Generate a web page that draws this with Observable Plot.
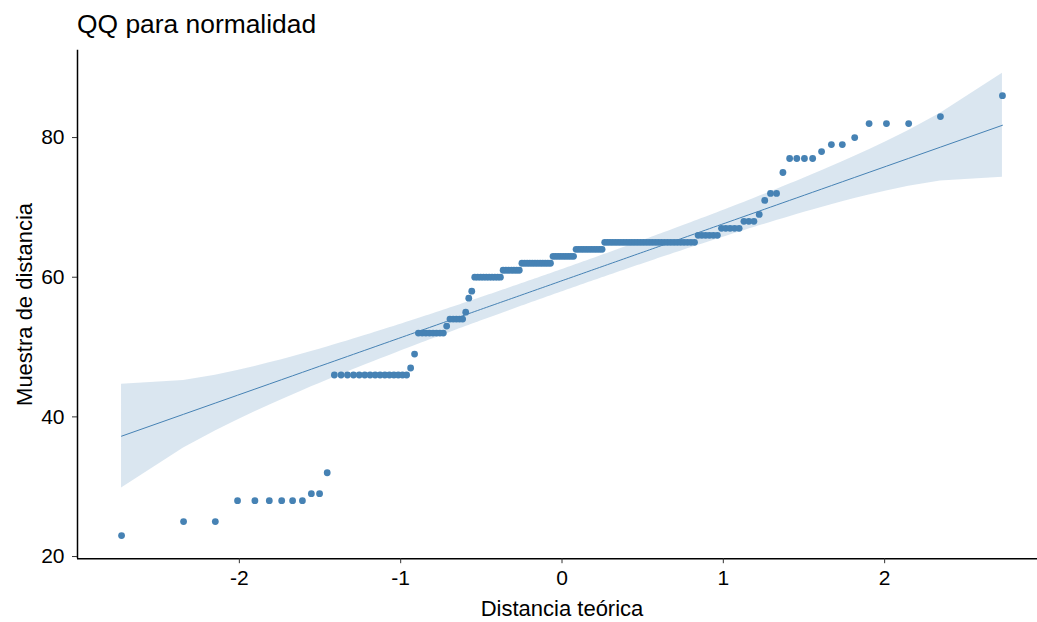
<!DOCTYPE html>
<html>
<head>
<meta charset="utf-8">
<script src="https://cdn.jsdelivr.net/npm/d3@7"></script>
<script src="https://cdn.jsdelivr.net/npm/@observablehq/plot@0.6"></script>
<style>
  html, body { margin: 0; padding: 0; background: #fff; overflow: hidden; }
  body { font-family: "Liberation Sans", Arial, sans-serif; }
  #title {
    height: 42px; box-sizing: border-box; padding: 11px 0 0 77px;
    font-size: 26.4px; line-height: 26px; color: #000; white-space: nowrap;
  }
</style>
</head>
<body>
<div id="title">QQ para normalidad</div>
<div id="chart"></div>
<script>
// Observed distances (distinct values and how many times each occurs)
const distanceValues = [23, 25, 28, 29, 32, 46, 47, 49, 52, 53, 54, 55, 57, 58,
  60, 61, 62, 63, 64, 65, 66, 67, 68, 69, 71, 72, 75, 77, 78, 79, 80, 82, 83, 86];
const distanceCounts = [1, 2, 6, 2, 1, 15, 1, 1, 8, 1, 5, 1, 1, 1,
  10, 7, 12, 9, 11, 31, 6, 5, 3, 1, 1, 2, 1, 4, 1, 2, 1, 3, 1, 1];

// Axis ticks
const xTicks = [-2, -1, 0, 1, 2];
const yTicks = [20, 40, 60, 80];

// Inverse of the standard normal CDF (Acklam's rational approximation)
function qnorm(p) {
  const a = [-3.969683028665376e+01, 2.209460984245205e+02, -2.759285104469687e+02,
             1.383577518672690e+02, -3.066479806614716e+01, 2.506628277459239e+00];
  const b = [-5.447609879822406e+01, 1.615858368580409e+02, -1.556989798598866e+02,
             6.680131188771972e+01, -1.328068155288572e+01];
  const c = [-7.784894002430293e-03, -3.223964580411365e-01, -2.400758277161838e+00,
             -2.549732539343734e+00, 4.374664141464968e+00, 2.938163982698783e+00];
  const d = [7.784695709041462e-03, 3.224671290700398e-01, 2.445134137142996e+00,
             3.754408661907416e+00];
  const pl = 0.02425, ph = 1 - pl;
  let q, r;
  if (p < pl) {
    q = Math.sqrt(-2 * Math.log(p));
    return (((((c[0]*q+c[1])*q+c[2])*q+c[3])*q+c[4])*q+c[5]) / ((((d[0]*q+d[1])*q+d[2])*q+d[3])*q+1);
  }
  if (p <= ph) {
    q = p - 0.5; r = q * q;
    return (((((a[0]*r+a[1])*r+a[2])*r+a[3])*r+a[4])*r+a[5])*q / (((((b[0]*r+b[1])*r+b[2])*r+b[3])*r+b[4])*r+1);
  }
  q = Math.sqrt(-2 * Math.log(1 - p));
  return -(((((c[0]*q+c[1])*q+c[2])*q+c[3])*q+c[4])*q+c[5]) / ((((d[0]*q+d[1])*q+d[2])*q+d[3])*q+1);
}
const dnorm = z => Math.exp(-z * z / 2) / Math.sqrt(2 * Math.PI);

// Sorted sample
const sample = distanceValues.flatMap((v, i) => Array(distanceCounts[i]).fill(v));
const n = sample.length;

// Reference line through the quartiles, with a 95% pointwise band
const q1 = d3.quantileSorted(sample, 0.25);
const q3 = d3.quantileSorted(sample, 0.75);
const slope = (q3 - q1) / (qnorm(0.75) - qnorm(0.25));
const intercept = q1 - slope * qnorm(0.25);
const zCrit = qnorm(0.975);

const qq = sample.map((s, i) => {
  const p = (i + 0.5) / n;
  const z = qnorm(p);
  const fit = intercept + slope * z;
  const se = (slope / dnorm(z)) * Math.sqrt(p * (1 - p) / n);
  return {z, sample: s, fit, lower: fit - zCrit * se, upper: fit + zCrit * se};
});

// Scale domains with 5% padding on each side
const zExt = d3.extent(qq, d => d.z);
const zPad = 0.05 * (zExt[1] - zExt[0]);
const xDomain = [zExt[0] - zPad, zExt[1] + zPad];
const yLo = Math.min(d3.min(qq, d => d.sample), d3.min(qq, d => d.lower));
const yHi = Math.max(d3.max(qq, d => d.sample), d3.max(qq, d => d.upper));
const yPad = 0.05 * (yHi - yLo);
const yDomain = [yLo - yPad, yHi + yPad];

const ink = "#000";
const plainNumber = v => String(v);

const chart = Plot.plot({
  width: 1037,
  height: 580,
  marginLeft: 77,
  marginRight: -9,
  marginTop: 7.7,
  marginBottom: 63.8,
  x: {domain: xDomain, label: null},
  y: {domain: yDomain, label: null},
  style: {
    fontFamily: "'Liberation Sans', Arial, sans-serif",
    background: "white",
    overflow: "visible",
    color: ink
  },
  marks: [
    Plot.areaY(qq, {x: "z", y1: "lower", y2: "upper", fill: "steelblue", fillOpacity: 0.2}),
    Plot.lineY(qq, {x: "z", y: "fit", stroke: "steelblue", strokeWidth: 1}),
    Plot.dot(qq, {x: "z", y: "sample", r: 3.4, fill: "steelblue", stroke: "none"}),
    Plot.ruleX([xDomain[0]], {stroke: ink, strokeWidth: 1.5}),
    Plot.ruleY([yDomain[0]], {stroke: ink, strokeWidth: 1.5}),
    Plot.axisX(xTicks, {tickSize: 5, tickPadding: 6, fontSize: 21, label: null,
      tickFormat: plainNumber, stroke: "#333", fill: ink}),
    Plot.axisY(yTicks, {tickSize: 5, tickPadding: 8, fontSize: 21, label: null,
      tickFormat: plainNumber, stroke: "#333", fill: ink}),
    Plot.text(["Distancia teórica"], {frameAnchor: "bottom", dy: 56.8, lineAnchor: "bottom",
      fontSize: 22, fill: ink}),
    Plot.text(["Muestra de distancia"], {frameAnchor: "left", dx: -53, rotate: -90,
      textAnchor: "middle", lineAnchor: "middle", fontSize: 22, fill: ink})
  ]
});

document.getElementById("chart").appendChild(chart);
</script>
</body>
</html>
